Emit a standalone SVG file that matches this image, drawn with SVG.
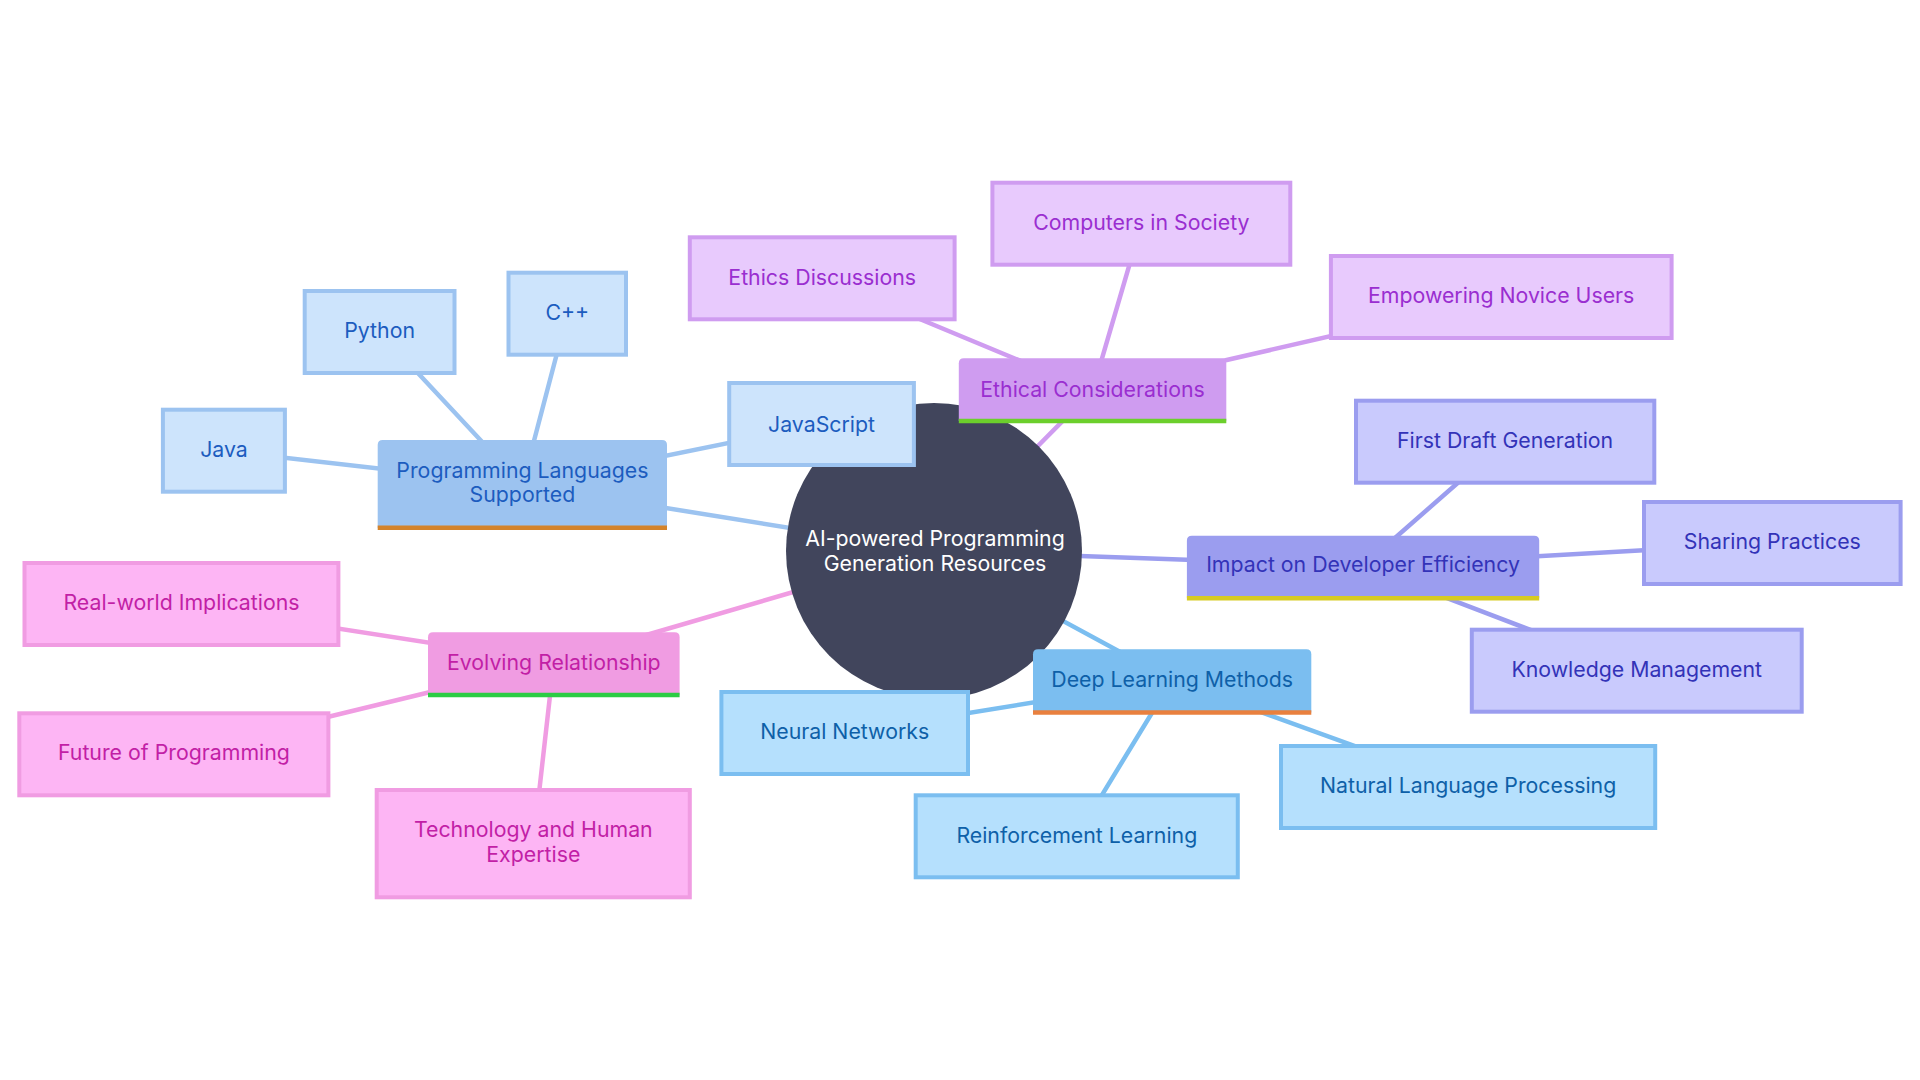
<svg xmlns="http://www.w3.org/2000/svg" width="1920" height="1080" viewBox="0 0 1920 1080">
<style>
text{font-family:Inter,"Noto Sans","Liberation Sans",sans-serif;font-size:21.3px;text-anchor:middle}
.e{fill:none;stroke-width:4.5;stroke-linecap:round}
.bar{stroke-width:4.5;fill:none}
.c{stroke-width:4}
.b1{stroke:#9cc3f0}.f1{fill:#9cc3f0}.cf1{fill:#cde4fc;stroke:#9cc3f0}.t1{fill:#1c5cbf}
.b2{stroke:#cf9cf0}.f2{fill:#cf9cf0}.cf2{fill:#e8cafd;stroke:#cf9cf0}.t2{fill:#9a2ed0}
.b3{stroke:#9b9def}.f3{fill:#9b9def}.cf3{fill:#c9cafd;stroke:#9b9def}.t3{fill:#3333b8}
.b4{stroke:#7bbef0}.f4{fill:#7bbef0}.cf4{fill:#b5e0fd;stroke:#7bbef0}.t4{fill:#0e60a8}
.b5{stroke:#f09ce2}.f5{fill:#f09ce2}.cf5{fill:#fdb5f4;stroke:#f09ce2}.t5{fill:#c21fa6}
</style>
<rect width="1920" height="1080" fill="#ffffff"/>
<g id="connectors">
<line class="e b1" x1="522.4" y1="485" x2="934" y2="551"/>
<line class="e b1" x1="379.6" y1="332" x2="522.4" y2="485"/>
<line class="e b1" x1="567.3" y1="314" x2="522.4" y2="485"/>
<line class="e b1" x1="224" y1="450.9" x2="522.4" y2="485"/>
<line class="e b1" x1="821.5" y1="424" x2="522.4" y2="485"/>
<line class="e b2" x1="1092.5" y1="390.8" x2="934" y2="551"/>
<line class="e b2" x1="822.2" y1="278.5" x2="1092.5" y2="390.8"/>
<line class="e b2" x1="1141.4" y1="224" x2="1092.5" y2="390.8"/>
<line class="e b2" x1="1501" y1="297" x2="1092.5" y2="390.8"/>
<line class="e b3" x1="1363" y1="566" x2="934" y2="551"/>
<line class="e b3" x1="1505" y1="441.5" x2="1363" y2="566"/>
<line class="e b3" x1="1772.3" y1="543" x2="1363" y2="566"/>
<line class="e b3" x1="1636.7" y1="670.5" x2="1363" y2="566"/>
<line class="e b4" x1="1172" y1="680" x2="934" y2="551"/>
<line class="e b4" x1="844.7" y1="733" x2="1172" y2="680"/>
<line class="e b4" x1="1076.8" y1="836.3" x2="1172" y2="680"/>
<line class="e b4" x1="1468" y1="787" x2="1172" y2="680"/>
<line class="e b5" x1="553.8" y1="662" x2="934" y2="551"/>
<line class="e b5" x1="181.5" y1="604.2" x2="553.8" y2="662"/>
<line class="e b5" x1="173.9" y1="754.3" x2="553.8" y2="662"/>
<line class="e b5" x1="533.3" y1="843.7" x2="553.8" y2="662"/>
</g>
<g id="root">
<circle cx="934" cy="551" r="148" fill="#41455c"/>
<text x="935" y="546" fill="#ffffff">AI-powered Programming</text>
<text x="935" y="570.7" fill="#ffffff">Generation Resources</text>
</g>
<g id="programming-languages">
<path class="f1" d="M377.7,528 V445 Q377.7,440 382.7,440 H662 Q667,440 667,445 V528 Z"/>
<line class="bar" stroke="#d4832a" x1="377.7" y1="527.7" x2="667" y2="527.7"/>
<text class="t1" x="522.4" y="478">Programming Languages</text>
<text class="t1" x="522.4" y="502">Supported</text>
</g>
<g id="python"><rect class="c cf1" x="304.7" y="291" width="149.8" height="82"/><text class="t1" x="379.6" y="338.3">Python</text></g>
<g id="cpp"><rect class="c cf1" x="508.5" y="272.7" width="117.5" height="82"/><text class="t1" x="567.3" y="320">C++</text></g>
<g id="java"><rect class="c cf1" x="162.9" y="409.7" width="122" height="82"/><text class="t1" x="224" y="456.7">Java</text></g>
<g id="javascript"><rect class="c cf1" x="729.2" y="383" width="184.7" height="82"/><text class="t1" x="821.5" y="431.7">JavaScript</text></g>
<g id="ethical">
<path class="f2" d="M958.8,421 V363.3 Q958.8,358.3 963.8,358.3 H1221.3 Q1226.3,358.3 1226.3,363.3 V421 Z"/>
<line class="bar" stroke="#6ccf2c" x1="958.8" y1="421" x2="1226.3" y2="421"/>
<text class="t2" x="1092.5" y="396.7">Ethical Considerations</text>
</g>
<g id="ethics-discussions"><rect class="c cf2" x="689.8" y="237.3" width="264.8" height="82"/><text class="t2" x="822.2" y="285">Ethics Discussions</text></g>
<g id="computers-society"><rect class="c cf2" x="992.4" y="182.7" width="297.9" height="82"/><text class="t2" x="1141.4" y="230">Computers in Society</text></g>
<g id="empowering"><rect class="c cf2" x="1330.9" y="256" width="340.7" height="82"/><text class="t2" x="1501.2" y="303.3">Empowering Novice Users</text></g>
<g id="impact">
<path class="f3" d="M1186.9,598.2 V540.7 Q1186.9,535.7 1191.9,535.7 H1534.2 Q1539.2,535.7 1539.2,540.7 V598.2 Z"/>
<line class="bar" stroke="#d7cb22" x1="1186.9" y1="598.2" x2="1539.2" y2="598.2"/>
<text class="t3" x="1363" y="571.7">Impact on Developer Efficiency</text>
</g>
<g id="first-draft"><rect class="c cf3" x="1356" y="400.7" width="298.3" height="82"/><text class="t3" x="1505.1" y="448.3">First Draft Generation</text></g>
<g id="sharing"><rect class="c cf3" x="1644" y="502" width="256.6" height="82"/><text class="t3" x="1772.3" y="549.3">Sharing Practices</text></g>
<g id="knowledge"><rect class="c cf3" x="1471.8" y="629.7" width="329.9" height="82"/><text class="t3" x="1636.7" y="676.7">Knowledge Management</text></g>
<g id="deep-learning">
<path class="f4" d="M1033,712.5 V654.3 Q1033,649.3 1038,649.3 H1306.3 Q1311.3,649.3 1311.3,654.3 V712.5 Z"/>
<line class="bar" stroke="#e9803e" x1="1033" y1="712.5" x2="1311.3" y2="712.5"/>
<text class="t4" x="1172.2" y="686.7">Deep Learning Methods</text>
</g>
<g id="neural"><rect class="c cf4" x="721.4" y="692" width="246.6" height="82"/><text class="t4" x="844.7" y="739.3">Neural Networks</text></g>
<g id="reinforcement"><rect class="c cf4" x="915.7" y="795.3" width="322.1" height="82"/><text class="t4" x="1076.8" y="843.3">Reinforcement Learning</text></g>
<g id="nlp"><rect class="c cf4" x="1281" y="746" width="374.2" height="82"/><text class="t4" x="1468.1" y="793.3">Natural Language Processing</text></g>
<g id="evolving">
<path class="f5" d="M428,695 V637.3 Q428,632.3 433,632.3 H674.6 Q679.6,632.3 679.6,637.3 V695 Z"/>
<line class="bar" stroke="#2ccc44" x1="428" y1="695" x2="679.6" y2="695"/>
<text class="t5" x="553.8" y="670">Evolving Relationship</text>
</g>
<g id="real-world"><rect class="c cf5" x="24.5" y="563" width="313.9" height="82"/><text class="t5" x="181.5" y="610">Real-world Implications</text></g>
<g id="future"><rect class="c cf5" x="19.3" y="713.3" width="309.1" height="82"/><text class="t5" x="173.9" y="760">Future of Programming</text></g>
<g id="tech-human"><rect class="c cf5" x="376.7" y="790" width="313.1" height="107.3"/><text class="t5" x="533.3" y="836.7">Technology and Human</text><text class="t5" x="533.3" y="861.7">Expertise</text></g>
</svg>
